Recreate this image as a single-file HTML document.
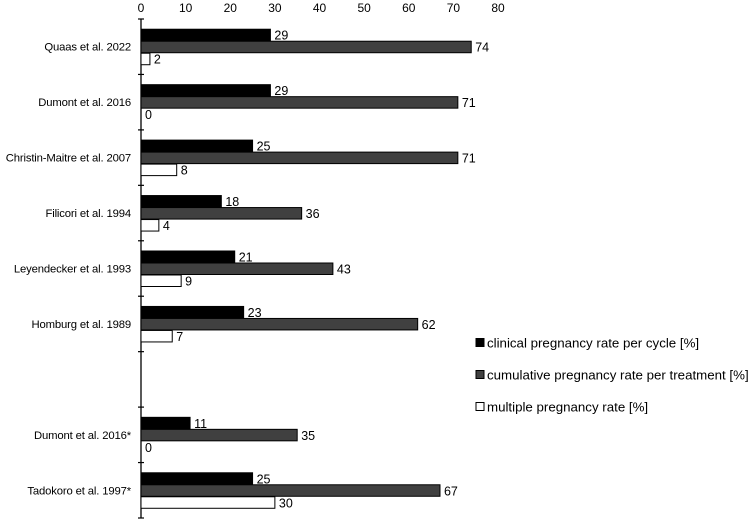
<!DOCTYPE html>
<html><head><meta charset="utf-8"><style>
body{margin:0;background:#fff;}
svg{display:block;font-family:"Liberation Sans",Arial,sans-serif;}
</style></head><body>
<svg id="c" width="749" height="522"></svg>
<script>
const categories=["Quaas et al. 2022","Dumont et al. 2016","Christin-Maitre et al. 2007","Filicori et al. 1994","Leyendecker et al. 1993","Homburg et al. 1989","","Dumont et al. 2016*","Tadokoro et al. 1997*"];
const clinical=[29,29,25,18,21,23,null,11,25];
const cumulative=[74,71,71,36,43,62,null,35,67];
const multiple=[2,0,8,4,9,7,null,0,30];
const ticks=[0,10,20,30,40,50,60,70,80];
const seriesNames=["clinical pregnancy rate per cycle [%]","cumulative pregnancy rate per treatment [%]","multiple pregnancy rate [%]"];
const NS="http://www.w3.org/2000/svg";
const svg=document.getElementById('c');
const x0=141,x1=498,yTop=19,yBot=518;
const band=(yBot-yTop)/categories.length;
const xs=v=>x0+v*(x1-x0)/80;
function mk(t,a,txt){const e=document.createElementNS(NS,t);for(const k in a)e.setAttribute(k,a[k]);if(txt!=null)e.textContent=txt;svg.appendChild(e);return e;}
ticks.forEach(t=>{
 const e=mk('text',{x:xs(t),y:12,'text-anchor':'middle','font-size':12,fill:'#000'},t);
 
 
});
const ax=mk('line',{x1:x0,y1:yTop,x2:x0,y2:yBot,stroke:'#000','stroke-width':1.3});


for(let i=0;i<=categories.length;i++){
 const y=yTop+i*band;
 const t=mk('line',{x1:x0-3,y1:y,x2:x0+3,y2:y,stroke:'#000','stroke-width':1.2});
 
 
}
const fills=['#000','#404040','#fff'];
const series=[clinical,cumulative,multiple];
categories.forEach((c,i)=>{
 const y=yTop+i*band;
 const mid=y+band/2;
 if(c){
  const l=mk('text',{x:131,y:mid+4,'text-anchor':'end','font-size':11.3,'letter-spacing':'-0.15',fill:'#000'},c);
  
  
 }
 series.forEach((s,j)=>{
  const v=s[i]; if(v==null)return;
  const by=mid-18+j*12;
  const w=xs(v)-x0;
  if(w>0){
   const r=mk('rect',{x:x0,y:by+0.5,width:w,height:11.5,fill:fills[j],stroke:'#000','stroke-width':1});
   
   
  }
  const t=mk('text',{x:xs(v)+4,y:by+11,'font-size':12.5,fill:'#000'},v);
  
  
 });
});
seriesNames.forEach((n,j)=>{
 const y=343+j*32;
 const r=mk('rect',{x:476,y:y-4.5,width:8,height:8,fill:fills[j],stroke:'#000','stroke-width':1});
 
 
 const t=mk('text',{x:487,y:y+4.5,'font-size':13.3,fill:'#000'},n);
 
 
});
</script>
</body></html>
